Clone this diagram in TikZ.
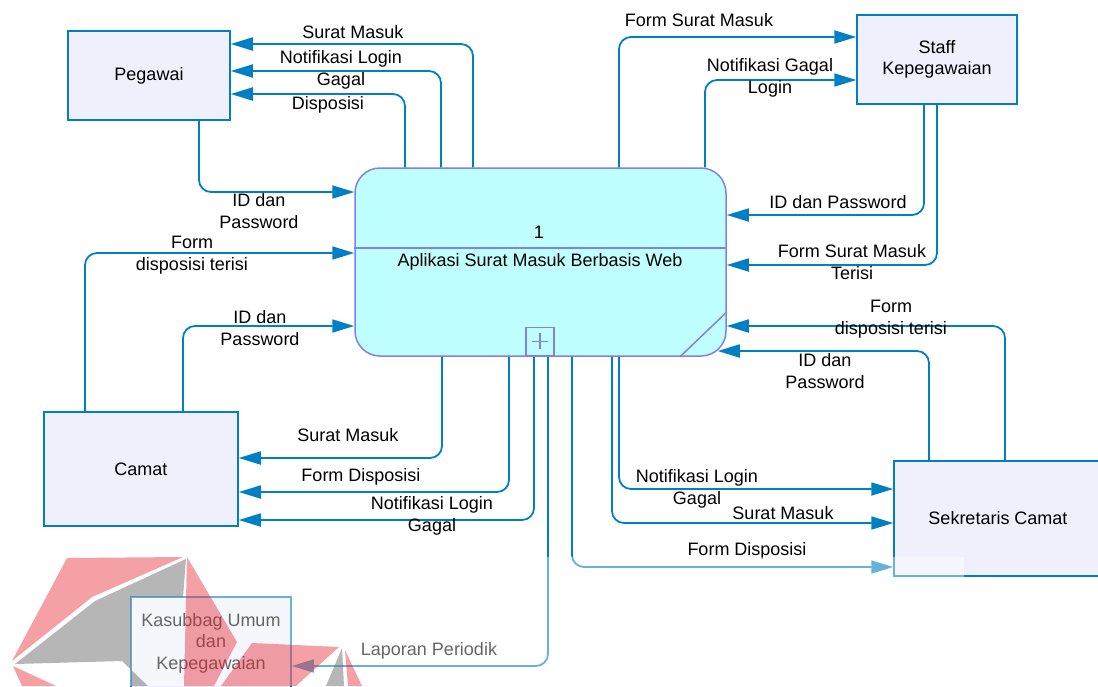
\documentclass[tikz,border=0pt]{standalone}
\usepackage{fontspec}
\setmainfont{Liberation Sans}
\usetikzlibrary{arrows.meta,calc}
\definecolor{flowblue}{RGB}{0,127,196}
\definecolor{entfill}{RGB}{240,240,252}
\definecolor{procfill}{RGB}{192,255,255}
\definecolor{procline}{RGB}{128,128,240}
\definecolor{wmred}{RGB}{230,30,40}
\definecolor{wmgray}{RGB}{110,110,110}
\begin{document}
\begin{tikzpicture}[x=1pt,y=-1pt,
  font=\fontsize{18}{21.5}\selectfont,
  entity/.style={draw=flowblue,fill=entfill,line width=1.5pt,align=center,inner sep=0pt},
  lbl/.style={align=center,inner sep=0pt,text=black},
  flow/.style={draw=flowblue,line width=1.8pt,rounded corners=12pt,-{Triangle[length=22pt,width=13pt]}},
  procstyle/.style={draw=procline,line width=1.5pt},
  wmr/.style={fill=wmred,opacity=0.42},
  wmg/.style={fill=wmgray,opacity=0.5}
]
\useasboundingbox (0,0) rectangle (1098,686);
\fill[white] (0,0) rectangle (1098,686);
\clip (0,0) rectangle (1098,686);

% entities
\node[entity,minimum width=162pt,minimum height=89pt] (peg) at (149,75.5) {Pegawai};
\node[entity,minimum width=160pt,minimum height=89pt] (staff) at (937,59.5) {Staff\\Kepegawaian};
\node[entity,minimum width=194pt,minimum height=114pt] (camat) at (141,469) {Camat};
\node[entity,minimum width=208pt,minimum height=115pt] (sek) at (998,518.5) {Sekretaris Camat};
\node[entity,minimum width=160pt,minimum height=92pt] (kas) at (211,643) {Kasubbag Umum\\dan\\Kepegawaian};

% process
\node[procstyle,fill=procfill,rounded corners=25pt,minimum width=371pt,minimum height=188pt,inner sep=0pt] (proc) at (540.5,262) {};
\draw[procstyle] (proc.west |- 0,248) -- (proc.east |- 0,248);
\node[lbl] (pnum) at (539,232) {1};
\node[lbl] (pname) at (540,262) {Aplikasi Surat Masuk Berbasis Web};
\node[procstyle,minimum size=28pt,inner sep=0pt,anchor=south] (plus) at (540,356) {};
\draw[procline,line width=1.3pt] ([xshift=-8pt]plus.center) -- ([xshift=8pt]plus.center)
  ([yshift=-8pt]plus.center) -- ([yshift=8pt]plus.center);
\draw[procstyle] (proc.east |- 0,312) -- (proc.south -| 680,0);

% connectors
\draw[flow] (proc.north -| 473,0) |- (peg.east |- 0,44);
\draw[flow] (proc.north -| 441,0) |- (peg.east |- 0,71);
\draw[flow] (proc.north -| 405,0) |- (peg.east |- 0,94);
\draw[flow] (peg.south -| 199,0) |- (proc.west |- 0,192);
\draw[flow] (proc.north -| 619,0) |- (staff.west |- 0,37);
\draw[flow] (proc.north -| 705,0) |- (staff.west |- 0,80);
\draw[flow] (staff.south -| 924,0) |- (proc.east |- 0,215);
\draw[flow] (staff.south -| 937,0) |- (proc.east |- 0,265);
\draw[flow] (sek.north -| 1005,0) |- (proc.east |- 0,326);
\draw[flow] (sek.north -| 929,0) |- ($(proc.east |- 0,351)+(-9,0)$);
\draw[flow] (camat.north -| 85,0) |- (proc.west |- 0,253);
\draw[flow] (camat.north -| 183,0) |- (proc.west |- 0,326);
\draw[flow] (proc.south -| 442,0) |- (camat.east |- 0,458);
\draw[flow] (proc.south -| 509,0) |- (camat.east |- 0,492);
\draw[flow] (proc.south -| 534,0) |- (camat.east |- 0,520);
\draw[flow] (proc.south -| 548,0) |- (kas.east |- 0,666);
\draw[flow] (proc.south -| 572,0) |- (sek.west |- 0,567);
\draw[flow] (proc.south -| 612,0) |- (sek.west |- 0,523);
\draw[flow] (proc.south -| 619,0) |- (sek.west |- 0,489);

% labels
\node[lbl] (l1) at (353,32) {Surat Masuk};
\node[lbl] (l2) at (341,70) {Notifikasi Login\\Gagal};
\node[lbl] (l3) at (328,105) {Disposisi};
\node[lbl] (l4) at (259,211) {ID dan\\Password};
\node[lbl] (l5) at (699,20) {Form Surat Masuk};
\node[lbl] (l6) at (770,78) {Notifikasi Gagal\\Login};
\node[lbl] (l7) at (838,202) {ID dan Password};
\node[lbl] (l8) at (852,262) {Form Surat Masuk\\Terisi};
\node[lbl] (l9) at (891,319) {Form\\disposisi terisi};
\node[lbl] (l10) at (825,371) {ID dan\\Password};
\node[lbl] (l11) at (192,255) {Form\\disposisi terisi};
\node[lbl] (l12) at (260,328) {ID dan\\Password};
\node[lbl] (l13) at (348,435) {Surat Masuk};
\node[lbl] (l14) at (361,477) {Form Disposisi};
\node[lbl] (l15) at (432,516) {Notifikasi Login\\Gagal};
\node[lbl] (l16) at (429,651) {Laporan Periodik};
\node[lbl] (l17) at (747,551) {Form Disposisi};
\node[lbl] (l18) at (783,513) {Surat Masuk};
\node[lbl] (l19) at (697,489) {Notifikasi Login\\Gagal};

% fading overlay
\fill[white,opacity=0.4] (0,557) rectangle (964,686);

% watermark
\fill[wmr] (67,558) -- (183,557) -- (92,597) -- (12,661) -- cycle;
\fill[wmg] (186,559) -- (95,601) -- (15,664) -- (122,661) -- (148,686) -- (131,686) -- (131,597) -- (183,597) -- cycle;
\fill[wmr] (13,666) -- (56,686) -- (22,686) -- cycle;
\fill[wmr] (187,557) -- (237,642) -- (214,686) -- (184,686) -- cycle;
\fill[wmr] (252,643) -- (339,647) -- (296,686) -- (221,686) -- cycle;
\fill[wmg] (342,648) -- (326,686) -- (344,686) -- cycle;
\fill[wmr] (345,650) -- (348,686) -- (362,686) -- cycle;
\end{tikzpicture}
\end{document}
